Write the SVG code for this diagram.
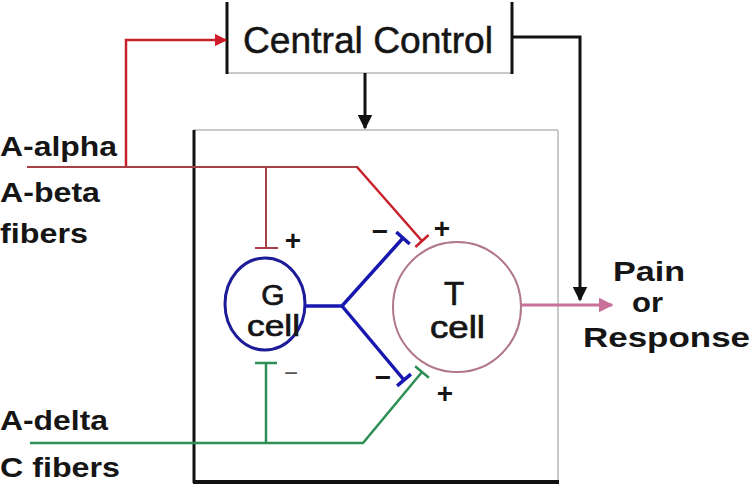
<svg xmlns="http://www.w3.org/2000/svg" width="756" height="497" viewBox="0 0 756 497">
<defs>
<style>
text{font-family:"Liberation Sans",Arial,sans-serif;fill:#151515}
.lbl{font-size:28px;font-weight:bold}
.cell{stroke:#151515;stroke-width:0.7}
.sign{font-size:28px;font-weight:bold}
.k{stroke:#111;stroke-width:3;fill:none}
.thin{stroke:#b8b8b8;stroke-width:1.5;fill:none}
.red{stroke:#c8202a;stroke-width:2.5;fill:none}
.dred{stroke:#a84048;stroke-width:2;fill:none}
.blue{stroke:#1818b0;stroke-width:3.5;fill:none}
.green{stroke:#2d8f55;stroke-width:2.5;fill:none}
.pink{stroke:#c8709a;stroke-width:3;fill:none}
</style>
<marker id="ak" viewBox="0 0 10 10" refX="9" refY="5" markerWidth="5" markerHeight="5" orient="auto" markerUnits="strokeWidth"><path d="M0,0L10,5L0,10z" fill="#111"/></marker>
<marker id="ar" viewBox="0 0 10 10" refX="9" refY="5" markerWidth="5" markerHeight="5" orient="auto" markerUnits="strokeWidth"><path d="M0,0L10,5L0,10z" fill="#d01c28"/></marker>
<marker id="ap" viewBox="0 0 10 10" refX="9" refY="5" markerWidth="5" markerHeight="5" orient="auto" markerUnits="strokeWidth"><path d="M0,0L10,5L0,10z" fill="#c8709a"/></marker>
</defs>

<g id="central-control">
<line class="thin" x1="227" y1="73" x2="512" y2="73"/>
<line class="k" x1="227" y1="2" x2="227" y2="74"/>
<line class="k" x1="512" y1="2" x2="512" y2="74"/>
<text x="243" y="53" style="font-size:37px;stroke:#151515;stroke-width:0.5" textLength="250" lengthAdjust="spacingAndGlyphs">Central Control</text>
</g>

<g id="gate-box">
<line class="thin" x1="194" y1="130" x2="558" y2="130"/>
<line class="thin" x1="558" y1="130" x2="558" y2="482"/>
<line class="k" x1="194" y1="130" x2="194" y2="483"/>
<line stroke="#111" stroke-width="4" x1="193" y1="482" x2="559" y2="482"/>
</g>

<g id="g-cell">
<ellipse cx="265" cy="304" rx="40" ry="46" fill="none" stroke="#1c1c98" stroke-width="3"/>
<text x="273" y="305" class="cell" style="font-size:30px" text-anchor="middle">G</text>
<text x="247" y="336" class="cell" style="font-size:29px" textLength="53" lengthAdjust="spacingAndGlyphs">cell</text>
</g>

<g id="t-cell">
<ellipse cx="457" cy="307" rx="64" ry="65" fill="none" stroke="#b07888" stroke-width="2"/>
<text x="454" y="305" class="cell" style="font-size:33px" text-anchor="middle">T</text>
<text x="430" y="338" class="cell" style="font-size:31px" textLength="55" lengthAdjust="spacingAndGlyphs">cell</text>
</g>

<g id="labels">
<text x="0" y="156" class="lbl" textLength="117" lengthAdjust="spacingAndGlyphs">A-alpha</text>
<text x="0" y="202" class="lbl" textLength="100" lengthAdjust="spacingAndGlyphs">A-beta</text>
<text x="0" y="243" class="lbl" textLength="88" lengthAdjust="spacingAndGlyphs">fibers</text>
<text x="0" y="430" class="lbl" textLength="108" lengthAdjust="spacingAndGlyphs">A-delta</text>
<text x="0" y="477" class="lbl" textLength="120" lengthAdjust="spacingAndGlyphs">C fibers</text>
<text x="613" y="281" class="lbl" textLength="72" lengthAdjust="spacingAndGlyphs">Pain</text>
<text x="632" y="312" class="lbl" textLength="31" lengthAdjust="spacingAndGlyphs">or</text>
<text x="583" y="347" class="lbl" textLength="167" lengthAdjust="spacingAndGlyphs">Response</text>
</g>

<g id="signs">
<text x="293" y="250" class="sign" text-anchor="middle">+</text>
<text x="442" y="238" class="sign" text-anchor="middle">+</text>
<text x="445" y="403" class="sign" text-anchor="middle">+</text>
<text x="380" y="241" class="sign" text-anchor="middle">−</text>
<text x="383" y="387" class="sign" text-anchor="middle">−</text>
<text x="291" y="381" style="font-size:24px;fill:#555" text-anchor="middle">−</text>
</g>

<g id="connectors">
<polyline class="red" points="126,167 126,40 226,40" marker-end="url(#ar)"/>
<line class="dred" x1="27" y1="167" x2="358" y2="167"/>
<line class="red" x1="357" y1="167" x2="422" y2="241"/>
<line class="red" stroke-width="4" x1="428.6" y1="235" x2="415.4" y2="247"/>
<line class="dred" x1="266" y1="167" x2="266" y2="248"/>
<line class="dred" x1="255" y1="248" x2="278" y2="248"/>
<line class="k" x1="365" y1="73" x2="365" y2="128" marker-end="url(#ak)"/>
<polyline class="k" points="512,37 580,37 580,300" marker-end="url(#ak)"/>
<polyline class="blue" points="305,306 342,306 403,238"/>
<line class="blue" x1="342" y1="306" x2="404" y2="380"/>
<line class="blue" x1="409.7" y1="244" x2="396.3" y2="232"/>
<line class="blue" x1="410.9" y1="374.2" x2="397.1" y2="385.8"/>
<polyline class="green" points="30,443 363,443 422,372"/>
<line class="green" stroke-width="3.5" x1="428.9" y1="377.8" x2="415.1" y2="366.2"/>
<line class="green" x1="266" y1="443" x2="266" y2="363"/>
<line class="green" x1="255" y1="363" x2="277" y2="363"/>
<line class="pink" x1="522" y1="305" x2="612" y2="305" marker-end="url(#ap)"/>
</g>
</svg>
